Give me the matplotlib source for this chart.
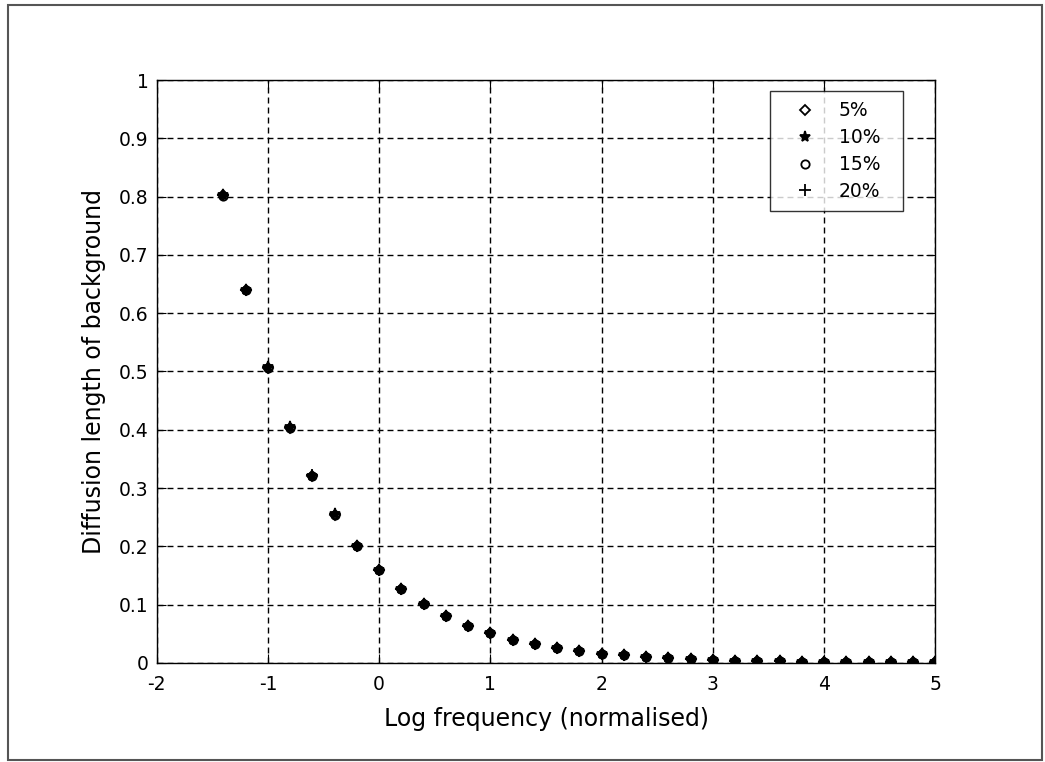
import numpy as np
import matplotlib
matplotlib.use("Agg")
import matplotlib.pyplot as plt
from matplotlib.patches import Rectangle

plt.rcParams['font.family'] = ['DejaVu Sans']
plt.rcParams['axes.unicode_minus'] = False

# log frequency (normalised)
logf = [-1.4, -1.2, -1.0, -0.8, -0.6, -0.4, -0.2, 0.0, 0.2, 0.4, 0.6, 0.8,
        1.0, 1.2, 1.4, 1.6, 1.8, 2.0, 2.2, 2.4, 2.6, 2.8, 3.0, 3.2, 3.4,
        3.6, 3.8, 4.0, 4.2, 4.4, 4.6, 4.8, 5.0]

# diffusion length (the four series overlap)
d5 = [0.802, 0.639, 0.506, 0.403, 0.321, 0.254, 0.201, 0.159, 0.127, 0.101,
      0.080, 0.064, 0.051, 0.040, 0.032, 0.025, 0.020, 0.016, 0.013, 0.010,
      0.008, 0.006, 0.005, 0.004, 0.003, 0.003, 0.002, 0.002, 0.002, 0.001,
      0.001, 0.001, 0.001]
d10 = [0.802, 0.640, 0.508, 0.404, 0.321, 0.255, 0.201, 0.159, 0.127, 0.101,
       0.080, 0.064, 0.051, 0.040, 0.032, 0.025, 0.020, 0.016, 0.013, 0.010,
       0.008, 0.006, 0.005, 0.004, 0.003, 0.003, 0.002, 0.002, 0.002, 0.001,
       0.001, 0.001, 0.001]
d15 = [0.801, 0.639, 0.506, 0.403, 0.321, 0.254, 0.200, 0.159, 0.127, 0.101,
       0.080, 0.064, 0.051, 0.040, 0.032, 0.025, 0.020, 0.016, 0.013, 0.010,
       0.008, 0.006, 0.005, 0.004, 0.003, 0.003, 0.002, 0.002, 0.002, 0.001,
       0.001, 0.001, 0.001]
d20 = [0.802, 0.640, 0.507, 0.404, 0.322, 0.255, 0.201, 0.160, 0.127, 0.101,
       0.081, 0.064, 0.051, 0.040, 0.032, 0.025, 0.020, 0.016, 0.013, 0.010,
       0.008, 0.006, 0.005, 0.004, 0.003, 0.003, 0.002, 0.002, 0.002, 0.001,
       0.001, 0.001, 0.001]
labels = ['5%', '10%', '15%', '20%']
markers = ['D', '*', 'o', '+']

fig = plt.figure(figsize=(10.45, 7.62), dpi=100)
# grey frame round the whole figure
fig.patches.append(Rectangle((8/1045, 2/762), 1034/1045, 755/762, transform=fig.transFigure,
                             fill=False, edgecolor='#555555', linewidth=1.5))
ax = fig.add_axes([0.150, 0.130, 0.745, 0.765])

sizes = {'D': 5, '*': 8, 'o': 6, '+': 8}
for ys, lab, m in zip([d5, d10, d15, d20], labels, markers):
    ax.plot(logf, ys, linestyle='none', marker=m, color='black',
            markerfacecolor='none' if m in ('D', 'o') else 'black',
            markersize=sizes[m], markeredgewidth=1.3, label=lab)

ax.set_xlim(-2, 5)
ax.set_ylim(0, 1)
ax.set_xticks(np.arange(-2, 6, 1))
ax.set_yticks(np.arange(0, 1.01, 0.1))
ax.set_yticklabels(['0', '0.1', '0.2', '0.3', '0.4', '0.5', '0.6', '0.7', '0.8', '0.9', '1'])
ax.grid(True, color='black', linestyle=(0, (4.3, 2.9)), linewidth=1.0)
ax.tick_params(direction='in', top=True, right=True, length=6.5, labelsize=13.5)
ax.tick_params(axis='x', pad=9)
ax.tick_params(axis='y', pad=6)
for s in ax.spines.values():
    s.set_linewidth(1.0)

ax.set_xlabel('Log frequency (normalised)', fontsize=17, labelpad=9)
ax.set_ylabel('Diffusion length of background', fontsize=17, labelpad=9)

# legend box stretched to the width it has in the original
leg = ax.legend(loc='upper left', bbox_to_anchor=(0.788, 0.0, 0.170, 0.981), mode='expand',
                borderaxespad=0, fontsize=13.5, frameon=True, fancybox=False, edgecolor='black',
                handlelength=2.65, handletextpad=0.45, borderpad=0.55, labelspacing=0.42)
leg.get_frame().set_linewidth(1.0)

fig.savefig('out.png', dpi=100)
